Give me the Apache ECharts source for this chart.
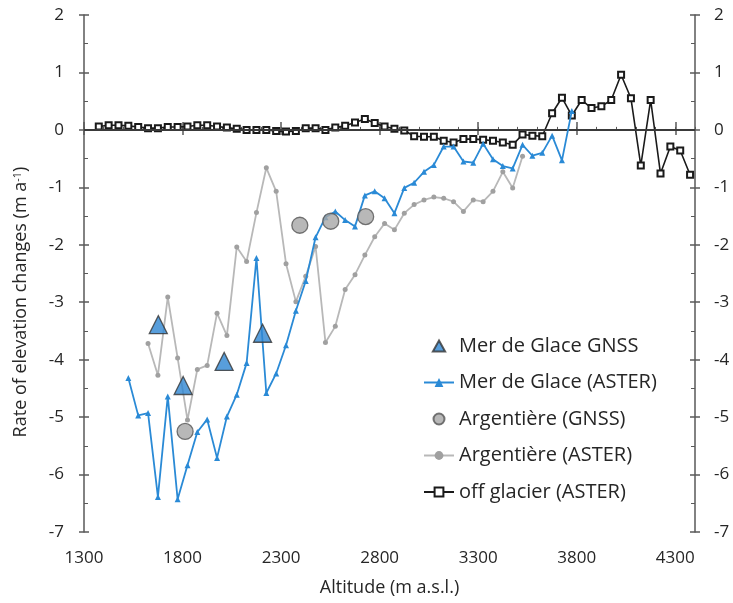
<!DOCTYPE html>
<html>
<head>
<meta charset="utf-8">
<script src="https://cdn.jsdelivr.net/npm/echarts@6/dist/echarts.min.js"></script>
<style>
  html, body { margin: 0; padding: 0; background: #fff; }
  #chart { width: 733px; height: 603px; }
</style>
</head>
<body>
<div id="chart"></div>
<script>
// tick labels
const xTicks = [1300, 1800, 2300, 2800, 3300, 3800, 4300];

// off glacier (ASTER)
const offAlt = [1375, 1425, 1475, 1525, 1575, 1625, 1675, 1725, 1775, 1825, 1875, 1925, 1975, 2025, 2075, 2125,
  2175, 2225, 2275, 2325, 2375, 2425, 2475, 2525, 2575, 2625, 2675, 2725, 2775, 2825, 2875, 2925, 2975, 3025,
  3075, 3125, 3175, 3225, 3275, 3325, 3375, 3425, 3475, 3525, 3575, 3625, 3675, 3725, 3775, 3825, 3875, 3925,
  3975, 4025, 4075, 4125, 4175, 4225, 4275, 4325, 4375];
const offVal = [0.06, 0.08, 0.08, 0.07, 0.05, 0.03, 0.03, 0.05, 0.05, 0.06, 0.08, 0.08, 0.06, 0.04, 0.02, 0.0,
  0.0, 0.0, -0.02, -0.03, -0.02, 0.03, 0.03, 0.0, 0.04, 0.07, 0.13, 0.19, 0.12, 0.06, 0.02, -0.01, -0.11, -0.12,
  -0.12, -0.19, -0.22, -0.16, -0.16, -0.17, -0.19, -0.22, -0.26, -0.08, -0.10, -0.11, 0.29, 0.56, 0.25, 0.52, 0.38, 0.41,
  0.52, 0.96, 0.55, -0.62, 0.52, -0.76, -0.29, -0.36, -0.78];

// Mer de Glace (ASTER)
const mdgAlt = [1525, 1575, 1625, 1675, 1725, 1775, 1825, 1875, 1925, 1975, 2025, 2075, 2125, 2175, 2225, 2275,
  2325, 2375, 2425, 2475, 2525, 2575, 2625, 2675, 2725, 2775, 2825, 2875, 2925, 2975, 3025, 3075, 3125, 3175,
  3225, 3275, 3325, 3375, 3425, 3475, 3525, 3575, 3625, 3675, 3725, 3775];
const mdgVal = [-4.32, -4.97, -4.93, -6.39, -4.64, -6.43, -5.84, -5.26, -5.04, -5.71, -4.99, -4.61, -4.06, -2.23, -4.58, -4.24,
  -3.75, -3.15, -2.63, -1.87, -1.52, -1.42, -1.57, -1.68, -1.14, -1.07, -1.19, -1.45, -1.01, -0.92, -0.73, -0.61, -0.29, -0.29,
  -0.55, -0.57, -0.24, -0.51, -0.63, -0.67, -0.26, -0.45, -0.40, -0.10, -0.53, 0.33];

// Argentière (ASTER)
const argAlt = [1625, 1675, 1725, 1775, 1825, 1875, 1925, 1975, 2025, 2075, 2125, 2175, 2225, 2275, 2325, 2375,
  2425, 2475, 2525, 2575, 2625, 2675, 2725, 2775, 2825, 2875, 2925, 2975, 3025, 3075, 3125, 3175, 3225, 3275,
  3325, 3375, 3425, 3475, 3525];
const argVal = [-3.72, -4.27, -2.91, -3.97, -5.05, -4.17, -4.10, -3.19, -3.58, -2.04, -2.29, -1.44, -0.66, -1.07, -2.33, -2.99,
  -2.55, -2.03, -3.70, -3.42, -2.78, -2.52, -2.18, -1.86, -1.63, -1.74, -1.45, -1.30, -1.22, -1.17, -1.19, -1.25, -1.42, -1.22,
  -1.25, -1.07, -0.73, -1.01, -0.46];

// GNSS points
const mdgGnssAlt = [1677, 1803, 2011, 2206];
const mdgGnssVal = [-3.39, -4.45, -4.03, -3.54];
const argGnssAlt = [1813, 2395, 2552, 2729];
const argGnssVal = [-5.25, -1.66, -1.59, -1.51];

function pairs(xs, ys) {
  return xs.map((x, i) => [x, ys[i]]);
}

const font = 'Open Sans';
const axisColor = '#595959';
const textColor = '#262626';

const chart = echarts.init(document.getElementById('chart'));

function yAxisBase(pos) {
  return {
    type: 'value',
    position: pos,
    min: -7,
    max: 2,
    interval: 1,
    splitLine: { show: false }
  };
}

const option = {
  animation: false,
  backgroundColor: '#fff',
  grid: { left: 84, right: 38, top: 15, bottom: 71, containLabel: false },
  legend: {
    orient: 'vertical',
    left: 418,
    top: 331,
    itemWidth: 30,
    itemHeight: 11,
    itemGap: 16.5,
    symbolKeepAspect: true,
    textStyle: { fontFamily: font, fontSize: 20, lineHeight: 20, color: textColor },
    data: [
      { name: 'Mer de Glace GNSS', icon: 'path://M5,0L10,9L0,9Z' },
      'Mer de Glace (ASTER)',
      { name: 'Argentière (GNSS)', icon: 'circle' },
      'Argentière (ASTER)',
      'off glacier (ASTER)'
    ]
  },
  xAxis: [
    {
      type: 'value',
      min: 1300,
      max: 4400,
      interval: 100,
      name: 'Altitude (m a.s.l.)',
      nameLocation: 'middle',
      nameGap: 47,
      nameTextStyle: { fontFamily: font, fontSize: 18, color: textColor },
      axisLine: { show: true, lineStyle: { color: axisColor, width: 1.5 } },
      axisTick: { show: true, inside: true, length: 3, lineStyle: { color: axisColor } },
      axisLabel: {
        customValues: xTicks, margin: 18, fontFamily: font, fontSize: 17, color: textColor,
        formatter: (v) => String(v)
      },
      splitLine: { show: false }
    },
    {
      type: 'value',
      min: 1300,
      max: 4400,
      axisLine: { show: false },
      axisTick: { show: true, customValues: xTicks, inside: false, length: 8, lineStyle: { color: axisColor, width: 1.5 } },
      axisLabel: { show: false },
      splitLine: { show: false }
    },
    {
      type: 'value',
      min: 1300,
      max: 4400,
      axisLine: { show: false },
      axisTick: { show: true, customValues: xTicks, inside: true, length: 5, lineStyle: { color: axisColor, width: 1.5 } },
      axisLabel: { show: false },
      splitLine: { show: false }
    }
  ],
  yAxis: [
    Object.assign(yAxisBase('left'), {
      name: 'Rate of elevation changes (m a{sup|-1})',
      nameLocation: 'middle',
      nameGap: 54,
      nameTextStyle: {
        fontFamily: font, fontSize: 18, color: textColor, padding: [0, 57, 0, 0],
        rich: { sup: { fontFamily: font, fontSize: 11, verticalAlign: 'top', color: textColor } }
      },
      axisLine: { show: true, lineStyle: { color: axisColor, width: 1.5 } },
      axisTick: { show: true, inside: true, length: 5, lineStyle: { color: axisColor, width: 1.5 } },
      minorTick: { show: true, splitNumber: 2, length: 4, lineStyle: { color: axisColor } },
      axisLabel: { margin: 20, fontFamily: font, fontSize: 17, color: textColor }
    }),
    Object.assign(yAxisBase('left'), {
      axisLine: { show: false },
      axisTick: { show: true, inside: false, length: 5, lineStyle: { color: axisColor, width: 1.5 } },
      axisLabel: { show: false }
    }),
    Object.assign(yAxisBase('right'), {
      axisLine: { show: true, onZero: false, lineStyle: { color: axisColor, width: 1.5 } },
      axisTick: { show: true, inside: true, length: 5, lineStyle: { color: axisColor, width: 1.5 } },
      minorTick: { show: true, splitNumber: 2, length: 4, lineStyle: { color: axisColor } },
      axisLabel: { margin: 19, fontFamily: font, fontSize: 17, color: textColor }
    }),
    Object.assign(yAxisBase('right'), {
      axisLine: { show: false },
      axisTick: { show: true, inside: false, length: 5, lineStyle: { color: axisColor, width: 1.5 } },
      axisLabel: { show: false }
    })
  ],
  series: [
    {
      name: 'off glacier (ASTER)',
      type: 'line',
      data: pairs(offAlt, offVal),
      symbol: 'emptyRect',
      symbolSize: 6,
      color: '#1a1a1a',
      lineStyle: { color: '#1a1a1a', width: 1.6 },
      itemStyle: { color: '#1a1a1a', borderWidth: 1.2 },
      z: 3,
      markLine: {
        silent: true,
        symbol: 'none',
        label: { show: false },
        lineStyle: { color: '#3a3a3a', width: 2, type: 'solid' },
        data: [{ yAxis: 0 }]
      }
    },
    {
      name: 'Argentière (ASTER)',
      type: 'line',
      data: pairs(argAlt, argVal),
      symbol: 'circle',
      symbolSize: 5,
      color: '#a8a8a8',
      lineStyle: { color: '#b8b8b8', width: 1.8 },
      itemStyle: { color: '#a0a0a0' },
      z: 4
    },
    {
      name: 'Mer de Glace (ASTER)',
      type: 'line',
      data: pairs(mdgAlt, mdgVal),
      symbol: 'triangle',
      symbolSize: 6,
      color: '#2a8ad6',
      lineStyle: { color: '#2a8ad6', width: 1.8 },
      itemStyle: { color: '#2a8ad6' },
      z: 5
    },
    {
      name: 'Mer de Glace GNSS',
      type: 'scatter',
      data: pairs(mdgGnssAlt, mdgGnssVal),
      symbol: 'triangle',
      symbolSize: 18,
      itemStyle: { color: '#2e86d2', borderColor: '#333', borderWidth: 1.3 },
      z: 6
    },
    {
      name: 'Argentière (GNSS)',
      type: 'scatter',
      data: pairs(argGnssAlt, argGnssVal),
      symbol: 'circle',
      symbolSize: 16,
      itemStyle: { color: '#a6a6a6', borderColor: '#555', borderWidth: 1.3 },
      z: 6
    }
  ]
};

chart.setOption(option);
</script>
</body>
</html>
